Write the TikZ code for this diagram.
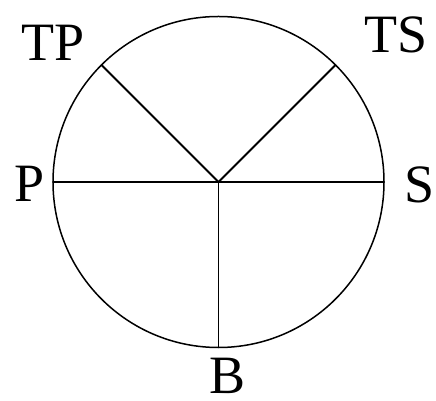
\documentclass[tikz,border=0pt]{standalone}
\usepackage{fontspec}
\setmainfont{Liberation Serif}
\begin{document}
\begin{tikzpicture}[x=1pt,y=1pt,
  lbl/.style={anchor=base,inner sep=0pt,font=\fontsize{54}{60}\selectfont},
  ray/.style={line width=1.8pt,line cap=round}]
\useasboundingbox (0,0) rectangle (436,401);
\coordinate (O) at (218.5,219);
\draw[line width=1.5pt] (O) circle (165.5);
\coordinate (L) at ([shift={(180:165.5)}]O);
\coordinate (R) at ([shift={(0:165.5)}]O);
\coordinate (D) at ([shift={(270:165.5)}]O);
\coordinate (TPe) at ([shift={(135:165.5)}]O);
\coordinate (TSe) at ([shift={(45:165.5)}]O);
\draw[ray] (L) -- (R);
\draw[ray] (O) -- (D);
\draw[ray] (O) -- (TPe);
\draw[ray] (O) -- (TSe);
\node[lbl] (tp) at (53.5,340) {TP};
\node[lbl] (ts) at (396.5,348) {TS};
\node[lbl] (p) at (30,199) {P};
\node[lbl] (s) at (419.5,198) {S};
\node[lbl] (b) at (228,7) {B};
\end{tikzpicture}
\end{document}
